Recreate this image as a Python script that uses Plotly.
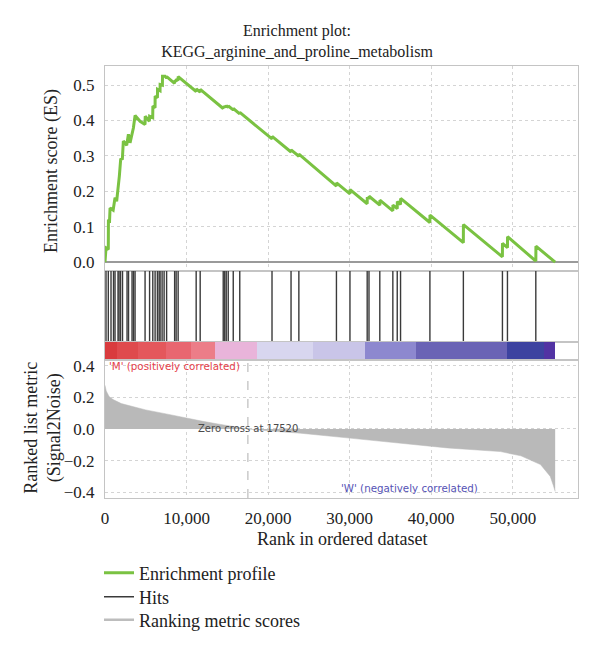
import plotly.graph_objects as go

# ---------------- data ----------------
ES_RANK = [0, 123, 405, 420, 560, 620, 1000, 1230, 1430, 1600, 1760, 1920, 2130, 2250,
           2660, 2870, 3070, 3480, 3690, 4300, 4910, 4930, 5440, 5470, 5850, 5870, 6140,
           6150, 6430, 6440, 6750, 6760, 7040, 7050, 7370, 7550, 7560, 8530, 8540, 8720,
           8730, 8960, 8970, 11180, 11190, 11670, 11680, 14490, 14500, 14680, 14690,
           14860, 14870, 15110, 15120, 15720, 15730, 16520, 16530, 20480, 20490, 22810,
           22820, 23770, 23780, 28380, 28390, 30040, 30050, 32150, 32160, 32370, 32380,
           33700, 33710, 35295, 35305, 35835, 35845, 36240, 36250, 39840, 39850, 43940,
           43950, 48730, 48740, 49350, 49360, 52830, 52840, 55200]
ES_VALUE = [0.000, 0.040, 0.036, 0.120, 0.118, 0.153, 0.147, 0.182, 0.172, 0.205, 0.243,
            0.290, 0.292, 0.342, 0.330, 0.361, 0.337, 0.379, 0.414, 0.398, 0.389, 0.412,
            0.398, 0.412, 0.408, 0.441, 0.436, 0.469, 0.464, 0.488, 0.484, 0.502, 0.500,
            0.525, 0.525, 0.520, 0.524, 0.505, 0.513, 0.510, 0.517, 0.513, 0.524, 0.482,
            0.489, 0.480, 0.488, 0.434, 0.440, 0.436, 0.441, 0.438, 0.442, 0.437, 0.441,
            0.430, 0.434, 0.419, 0.423, 0.348, 0.355, 0.311, 0.317, 0.299, 0.305, 0.215,
            0.224, 0.193, 0.205, 0.165, 0.183, 0.179, 0.186, 0.161, 0.175, 0.145, 0.161,
            0.151, 0.171, 0.163, 0.180, 0.112, 0.133, 0.055, 0.106, 0.015, 0.053, 0.041,
            0.072, 0.003, 0.045, 0.000]

HITS = [123, 405, 737, 1044, 1229, 1597, 1720, 1904, 2150, 2703, 2887, 3317, 3501, 3686,
        4914, 5467, 5860, 6143, 6425, 6634, 6757, 7002, 7248, 7555, 8538, 8722, 8968,
        11179, 11671, 14497, 14681, 14865, 15111, 15726, 16525, 20479, 22813, 23772,
        28380, 30036, 32150, 32371, 33697, 35295, 35835, 36241, 39841, 43944, 48734,
        49349, 52826]

METRIC_RANK = [0, 150, 500, 1000, 2000, 3500, 5000, 7500, 10000, 12000, 14000, 17520,
               20000, 24000, 30000, 36000, 42000, 48500, 51000, 53400, 54600, 55000, 55200]
METRIC_VALUE = [0.275, 0.24, 0.205, 0.185, 0.16, 0.14, 0.12, 0.095, 0.068, 0.048, 0.03, 0.0,
                -0.012, -0.027, -0.058, -0.09, -0.12, -0.143, -0.17, -0.225, -0.30, -0.36,
                -0.395]

BAND_EDGES = [0, 1500, 4000, 7500, 10500, 13500, 18640, 25550, 31940, 38080, 49350, 53810, 55200]
BAND_COLORS = ['#d93b3e', '#df4a4d', '#e4575c', '#e86670', '#ec7d88', '#e9b4da',
               '#d8d6ef', '#c9c5e8', '#8d88cf', '#6a63b5', '#3d43a0', '#5233a3']

ZERO_CROSS = 17520
X_TICKS = [0, 10000, 20000, 30000, 40000, 50000]
ES_TICKS = [0.0, 0.1, 0.2, 0.3, 0.4, 0.5]
METRIC_TICKS = [-0.4, -0.2, 0.0, 0.2, 0.4]

TITLE = "Enrichment plot:<br>KEGG_arginine_and_proline_metabolism"
LEGEND_NAMES = ['Enrichment profile', 'Hits', 'Ranking metric scores']

# ---------------- figure ----------------
SERIF = "Liberation Serif"
SANS = "DejaVu Sans"
FRAME = '#c4c4c4'
GRID = '#d4d4d4'
W, H = 592, 642   # page body adds an 8 px offset

fig = go.Figure()

fig.add_trace(go.Scatter(x=ES_RANK, y=ES_VALUE, mode='lines', name=LEGEND_NAMES[0],
                         line=dict(color='#7ac242', width=3), xaxis='x', yaxis='y',
                         legend='legend'))

hx, hy = [], []
for h in HITS:
    hx += [h, h, None]
    hy += [0, 1, None]
fig.add_trace(go.Scatter(x=hx, y=hy, mode='lines', name=LEGEND_NAMES[1],
                         line=dict(color='#3a3a3a', width=1.4), xaxis='x2', yaxis='y2',
                         legend='legend2'))

fig.add_trace(go.Bar(y=[0.5] * len(BAND_COLORS), base=BAND_EDGES[:-1],
                     x=[BAND_EDGES[i + 1] - BAND_EDGES[i] for i in range(len(BAND_COLORS))],
                     orientation='h', width=1, marker=dict(color=BAND_COLORS, line=dict(width=0)),
                     showlegend=False, hoverinfo='skip', xaxis='x3', yaxis='y3'))

fig.add_trace(go.Scatter(x=METRIC_RANK, y=METRIC_VALUE, mode='lines', fill='tozeroy',
                         fillcolor='#b9b9b9', line=dict(color='#b9b9b9', width=0.5),
                         showlegend=False, xaxis='x4', yaxis='y4'))
fig.add_trace(go.Scatter(x=[None], y=[None], mode='lines', name=LEGEND_NAMES[2],
                         line=dict(color='#bdbdbd', width=2.5), xaxis='x4', yaxis='y4',
                         legend='legend3'))

XR = [0, 58000]
D_TOP = [0.5255, 1.0]
D_HIT = [0.361, 0.5255]
D_BAND = [0.3194, 0.361]
D_MET = [0.0, 0.3194]

common_x = dict(range=XR, showline=True, mirror=True, linecolor=FRAME, linewidth=1,
                zeroline=False, ticks='', fixedrange=True, automargin=False)


def leg(ypx):
    return dict(xref='container', yref='container', x=(99 - 8) / W, y=1 - (ypx - 8) / H,
                xanchor='left', yanchor='middle', orientation='v',
                font=dict(family=SERIF, size=18, color='#222'), bgcolor='rgba(0,0,0,0)',
                itemwidth=30)


fig.update_layout(
    width=W, height=H,
    paper_bgcolor='white', plot_bgcolor='white',
    margin=dict(l=97, r=22, t=58, b=152, autoexpand=False),
    bargap=0,
    title=dict(text=TITLE, x=(297 - 8) / W, xanchor='center', y=1 - 28 / H, yanchor='top',
               yref='container', font=dict(family=SERIF, size=16, color='#222')),
    xaxis=dict(domain=[0, 1], anchor='y', showticklabels=False, tickvals=X_TICKS,
               showgrid=True, gridcolor=GRID, griddash='dot', **common_x),
    yaxis=dict(domain=D_TOP, anchor='x', range=[-0.025, 0.554], tickvals=ES_TICKS,
               tickformat='.1f', showgrid=True, gridcolor=GRID, griddash='dot',
               zeroline=True, zerolinecolor='#9a9a9a', zerolinewidth=1.5, automargin=False,
               showline=True, mirror=True, linecolor=FRAME, ticks='', ticklabelstandoff=6,
               tickfont=dict(family=SERIF, size=17, color='#222')),
    xaxis2=dict(domain=[0, 1], anchor='y2', showticklabels=False, showgrid=False, **common_x),
    yaxis2=dict(domain=D_HIT, anchor='x2', range=[0, 1], showticklabels=False, showgrid=False,
                zeroline=False, showline=True, mirror=True, linecolor=FRAME, ticks=''),
    xaxis3=dict(domain=[0, 1], anchor='y3', showticklabels=False, showgrid=False, **common_x),
    yaxis3=dict(domain=D_BAND, anchor='x3', range=[0, 1], showticklabels=False, showgrid=False,
                zeroline=False, showline=True, mirror=True, linecolor=FRAME, ticks=''),
    xaxis4=dict(domain=[0, 1], anchor='y4', tickvals=X_TICKS, tickformat=',d', showgrid=True,
                gridcolor=GRID, griddash='dot', ticklabelstandoff=5,
                tickfont=dict(family=SERIF, size=17, color='#222'), **common_x),
    yaxis4=dict(domain=D_MET, anchor='x4', range=[-0.436, 0.435], tickvals=METRIC_TICKS,
                tickformat='.1f', showgrid=True, gridcolor=GRID, griddash='dot', zeroline=False,
                showline=True, mirror=True, linecolor=FRAME, ticks='', ticklabelstandoff=6,
                automargin=False, tickfont=dict(family=SERIF, size=17, color='#222')),
    legend=leg(573), legend2=leg(597), legend3=leg(620),
    showlegend=True,
)

fig.add_shape(type='line', xref='x4', yref='y4 domain', x0=ZERO_CROSS, x1=ZERO_CROSS,
              y0=0, y1=1, line=dict(color='#bdbdbd', width=1.2, dash='dash'))

fig.add_annotation(x=ZERO_CROSS, y=0, xref='x4', yref='y4', text='Zero cross at %d' % ZERO_CROSS,
                   showarrow=False, xanchor='center', yanchor='middle',
                   font=dict(family=SANS, size=10, color='#4a4a4a'))
fig.add_annotation(x=0.004, y=0.4, xref='x4 domain', yref='y4', text="'M' (positively correlated)",
                   showarrow=False, xanchor='left', yanchor='middle',
                   font=dict(family=SANS, size=10.3, color='#e5404a'))
fig.add_annotation(x=37300, y=-0.372, xref='x4', yref='y4', text="'W' (negatively correlated)",
                   showarrow=False, xanchor='center', yanchor='middle',
                   font=dict(family=SANS, size=10.3, color='#5552b5'))

fig.add_annotation(x=-0.112, y=0.757, xref='paper', yref='paper', text='Enrichment score (ES)',
                   textangle=-90, showarrow=False, xanchor='center', yanchor='middle',
                   font=dict(family=SERIF, size=18, color='#222'))
fig.add_annotation(x=-0.133, y=0.163, xref='paper', yref='paper',
                   text='Ranked list metric<br>(Signal2Noise)',
                   textangle=-90, showarrow=False, xanchor='center', yanchor='middle',
                   font=dict(family=SERIF, size=18, color='#222'))
fig.add_annotation(x=0.5, y=-0.095, xref='paper', yref='paper', text='Rank in ordered dataset',
                   showarrow=False, xanchor='center', yanchor='middle',
                   font=dict(family=SERIF, size=18, color='#222'))

fig.write_html("out.html")
